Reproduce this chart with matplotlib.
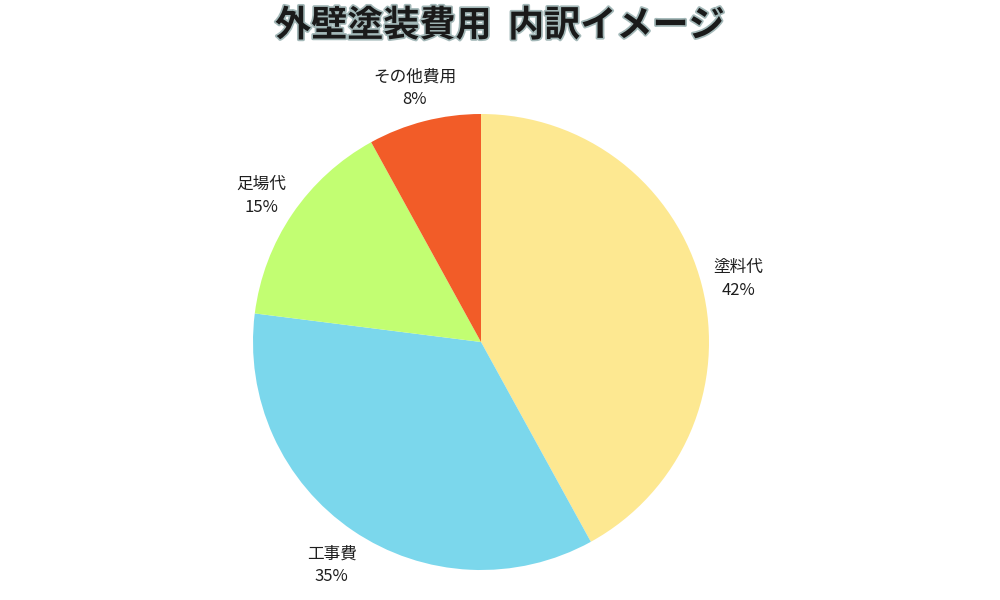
import matplotlib.pyplot as plt
import matplotlib.patheffects as pe

plt.rcParams['font.family'] = ['Noto Sans CJK JP', 'DejaVu Sans']

# data
categories = ["塗料代", "工事費", "足場代", "その他費用"]
shares = [42, 35, 15, 8]
colors = ["#FDE891", "#7BD7EC", "#C2FE72", "#F25C28"]
title = "外壁塗装費用  内訳イメージ"

fig = plt.figure(figsize=(10, 6), dpi=100)
ax = fig.add_axes([0.253, 0.05, 0.456, 0.76])

labels = [f"{c}\n{v}%" for c, v in zip(categories, shares)]
wedges, texts = ax.pie(shares, labels=labels, colors=colors, startangle=90,
                       counterclock=False, labeldistance=1.165,
                       textprops={'fontsize': 12, 'color': '#1e1e1e'})
for t in texts:
    t.set_ha('center')
    t.set_va('center')
    t.set_linespacing(1.45)
    x, y = t.get_position()
    t.set_position((x, y - 0.015))
ax.set_xlim(-1, 1)
ax.set_ylim(-1, 1)
ax.set_aspect('equal')

fig.text(0.5, 0.957, title, ha='center', va='center', fontsize=26,
         fontweight='bold', color='#1a1a1a',
         path_effects=[pe.withStroke(linewidth=2.5, foreground='#a3b8b8')])

fig.savefig('out.png', dpi=100)
